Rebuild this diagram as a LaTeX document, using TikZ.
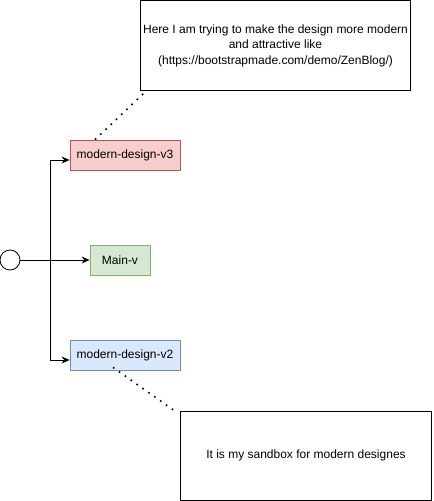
\documentclass[tikz,border=0pt]{standalone}
\usepackage{fontspec}
\setmainfont{Liberation Sans}
\usetikzlibrary{arrows.meta,calc}
\definecolor{redfill}{HTML}{F8CECC}
\definecolor{redline}{HTML}{B85450}
\definecolor{greenfill}{HTML}{D5E8D4}
\definecolor{greenline}{HTML}{82B366}
\definecolor{bluefill}{HTML}{DAE8FC}
\definecolor{blueline}{HTML}{6C8EBF}
\tikzset{
  branch/.style={draw, line width=0.8pt, minimum height=30pt, inner sep=0pt, font=\fontsize{12}{14}\selectfont},
  note/.style={draw=black, line width=0.8pt, fill=white, inner sep=0pt, align=center, font=\fontsize{12}{15.5}\selectfont},
  conn/.style={line width=0.8pt, -{Stealth[length=8pt,width=7pt]}},
  dots/.style={line width=1.6pt, dash pattern=on 1.6pt off 5.6pt},
}
\begin{document}
\begin{tikzpicture}[x=1pt,y=-1pt]
\useasboundingbox (0,0) rectangle (434,501);
\node[draw, circle, line width=0.8pt, minimum size=20pt, inner sep=0pt] (start) at (10,260) {};
\node[branch, fill=redfill, draw=redline, minimum width=110pt] (v3) at (125,155) {modern-design-v3};
\node[branch, fill=greenfill, draw=greenline, minimum width=60pt] (main) at (120,260) {Main-v};
\node[branch, fill=bluefill, draw=blueline, minimum width=110pt] (v2) at (125,355) {modern-design-v2};
\node[note, minimum width=270pt, minimum height=90pt] (n1) at (275.5,45.5) {Here I am trying to make the design more modern\\and attractive like\\(https://bootstrapmade.com/demo/ZenBlog/)};
\node[note, minimum width=251pt, minimum height=89pt] (n2) at (306,455.5) {It is my sandbox for modern designes};
\coordinate (j) at (50,260);
\draw[conn] (start.east) -- (main.west);
\draw[conn] (j) |- ([yshift=-5pt]v3.west);
\draw[conn] (j) |- ([yshift=-5pt]v2.west);
\draw[dots] ([xshift=-30pt]v3.north) -- ([xshift=4pt,yshift=-2pt]n1.south west);
\draw[dots] ([xshift=-12pt,yshift=3pt]v2.south) -- ([xshift=-3pt,yshift=-2pt]n2.north west);
\end{tikzpicture}
\end{document}
